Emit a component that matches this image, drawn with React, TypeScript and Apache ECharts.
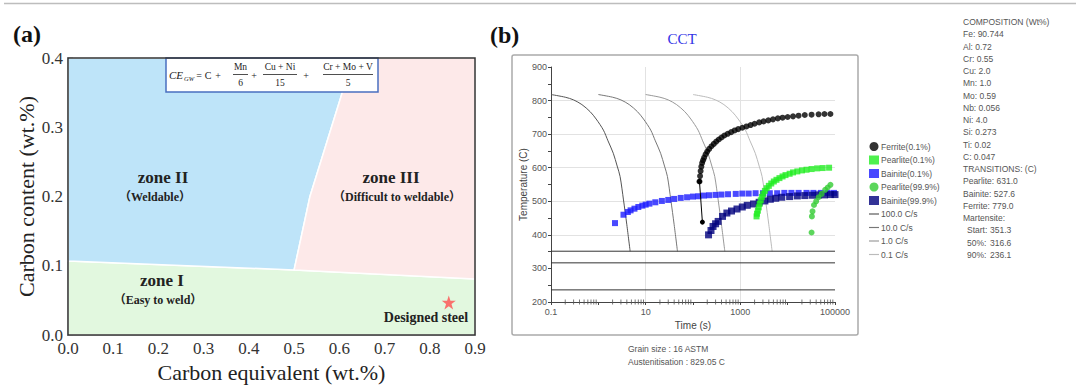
import React, { useEffect, useRef } from 'react';
import * as echarts from 'echarts';

// ---------- Panel (a) data ----------
const zoneI = [[0, 0], [0.9, 0], [0.9, 0.081], [0.5, 0.094], [0, 0.107]];
const zoneII = [[0, 0.107], [0.5, 0.094], [0.535, 0.2], [0.606, 0.349], [0.625, 0.4], [0, 0.4]];
const zoneIII = [[0.5, 0.094], [0.9, 0.081], [0.9, 0.4], [0.625, 0.4], [0.606, 0.349], [0.535, 0.2]];
const designedSteel = [[0.842, 0.047]];

// ---------- Panel (b) data (time s, temperature C) ----------
const cool100 = [[0.1, 818], [0.2, 810], [0.3, 802], [0.45, 788], [0.67, 767], [0.9, 745], [1.28, 712], [1.6, 680], [2.07, 643], [2.5, 605], [2.88, 574], [3.4, 504], [4.0, 430], [4.7, 351]];
const cool10 = [[1, 818], [2, 810], [3, 802], [4.5, 788], [6.7, 767], [9, 745], [12.8, 712], [16, 680], [20.7, 643], [25, 605], [28.8, 574], [34, 504], [40, 430], [47, 351]];
const cool1 = [[10, 818], [20, 810], [30, 802], [45, 788], [67, 767], [90, 745], [128, 712], [160, 680], [207, 643], [250, 605], [288, 574], [340, 504], [400, 430], [470, 351]];
const cool01 = [[100, 818], [200, 810], [300, 802], [450, 788], [670, 767], [900, 745], [1280, 712], [1600, 680], [2070, 643], [2500, 605], [2880, 574], [3400, 504], [4000, 430], [4700, 351]];

const ferriteStart = [[158, 438], [137, 559]];
const ferrite = [[137, 559], [141, 575], [145, 590], [150, 603], [156, 614], [163, 622], [172, 630], [185, 640], [200, 648], [220, 656], [245, 664], [275, 671], [310, 678], [350, 684], [400, 690], [460, 696], [540, 701], [640, 706], [760, 711], [900, 715], [1100, 719], [1350, 723], [1650, 727], [2000, 731], [2500, 735], [3100, 738], [3900, 741], [4900, 744], [6200, 747], [7800, 749], [10000, 751], [13000, 753], [17000, 755], [23000, 757], [32000, 758], [45000, 759], [60000, 760], [80000, 760]];
const pearlite01 = [[2200, 455], [2250, 463], [2350, 472], [2450, 482], [2550, 492], [2700, 503], [2850, 513], [3050, 522], [3300, 531], [3600, 539], [4000, 546], [4500, 553], [5100, 559], [5800, 564], [6700, 569], [7800, 574], [9000, 578], [11000, 582], [13000, 586], [16000, 589], [20000, 592], [25000, 594], [32000, 596], [42000, 598], [55000, 599], [75000, 600]];
const bainite01 = [[2.25, 435], [3.4, 460], [4.2, 468], [4.8, 473], [5.8, 478], [7, 483], [8.5, 487], [10, 490], [12, 493], [16, 497], [22, 501], [30, 504], [40, 507], [55, 510], [75, 512], [100, 514], [130, 515], [170, 517], [220, 518], [300, 519], [400, 520], [550, 521], [800, 522], [1100, 523], [1500, 523], [2100, 524], [3000, 524], [4200, 524], [6000, 524], [8500, 525], [12000, 525], [17000, 525], [25000, 525], [35000, 525], [50000, 525], [70000, 525], [95000, 525]];
const pearlite999 = [[32000, 407], [32500, 455], [33500, 470], [36000, 489], [40000, 500], [45000, 512], [52000, 522], [62000, 534], [70000, 541], [80000, 549]];
const bainite999 = [[213, 400], [240, 413], [265, 425], [300, 433], [340, 440], [420, 455], [520, 465], [650, 471], [850, 477], [1100, 483], [1400, 488], [1900, 492], [2500, 497], [3300, 501], [4300, 506], [5600, 509], [7500, 512], [11000, 514], [16000, 516], [23000, 517], [33000, 518], [45000, 519], [60000, 519], [80000, 520], [100000, 520]];

const martensiteTemps = [351.3, 316.6, 236.1];
const martensiteLabels = ['Start:', '50%:', '90%:'];
const timeRange = [0.1, 100000];
const timeLabels = ['0.1', '10', '1000', '100000'];
const decadeStarts = [0.1, 1, 10, 100, 1000, 10000];
const minorMultipliers = [2, 3, 4, 5, 6, 7, 8, 9];

const compositionLines = ['COMPOSITION (Wt%)', 'Fe: 90.744', 'Al: 0.72', 'Cr: 0.55', 'Cu: 2.0', 'Mn: 1.0', 'Mo: 0.59', 'Nb: 0.056', 'Ni: 4.0', 'Si: 0.273', 'Ti: 0.02', 'C: 0.047', 'TRANSITIONS: (C)', 'Pearlite: 631.0', 'Bainite: 527.6', 'Ferrite: 779.0', 'Martensite:'];

const legendNames = ['Ferrite(0.1%)', 'Pearlite(0.1%)', 'Bainite(0.1%)', 'Pearlite(99.9%)', 'Bainite(99.9%)', '100.0 C/s', '10.0 C/s', '1.0 C/s', '0.1 C/s'];
const coolColors = ['#555555', '#777777', '#999999', '#bbbbbb'];

const SERIF = '"Liberation Serif", "Times New Roman", serif';
const SANS = '"Liberation Sans", Arial, sans-serif';
const STAR = 'path://M50,0 L61.8,35.1 L98.9,35.1 L68.9,56.8 L80.3,91.9 L50,70.2 L19.7,91.9 L31.1,56.8 L1.1,35.1 L38.2,35.1 Z';
const LINE_ICON = 'path://M0,0 L12,0 L12,1.4 L0,1.4 Z';

function txt(text: string, x: number, y: number, o: any = {}) {
  return {
    type: 'text', x, y, z: o.z ?? 50,
    style: {
      text, fontFamily: o.family ?? SERIF, fontSize: o.size ?? 12, fontWeight: o.weight ?? 'normal',
      fontStyle: o.style ?? 'normal', fill: o.fill ?? '#222', align: o.align ?? 'left', verticalAlign: o.va ?? 'middle',
    },
  };
}

function zoneSeries(points: number[][], color: string) {
  return {
    type: 'custom', xAxisIndex: 0, yAxisIndex: 0, silent: true, z: 1, data: [0],
    renderItem: (_p: any, api: any) => ({
      type: 'polygon',
      shape: { points: points.map((p) => api.coord(p)) },
      style: { fill: color, stroke: '#ffffff', lineWidth: 1.5 },
    }),
  };
}

export default function App() {
  const ref = useRef<HTMLDivElement>(null);
  useEffect(() => {
    document.body.style.margin = '0';
    const chart = echarts.init(ref.current!, undefined, { renderer: 'svg' });

    const minorTicks: number[][] = [];
    decadeStarts.forEach((d) => minorMultipliers.forEach((m) => minorTicks.push([d * m, 200])));

    const formula: any[] = [
      { type: 'rect', z: 40, shape: { x: 166, y: 58, width: 212, height: 34 }, style: { fill: '#ffffff', stroke: '#4a6fc0', lineWidth: 1.5 } },
      txt('CE', 169, 75, { size: 11, style: 'italic' }),
      txt('GW', 184, 78, { size: 6.5, style: 'italic' }),
      txt('=', 199, 75, { size: 10, align: 'center' }),
      txt('C', 208, 75, { size: 10, align: 'center' }),
      txt('+', 218, 75, { size: 10, align: 'center' }),
      txt('Mn', 240.5, 67, { size: 9.5, align: 'center' }),
      txt('6', 240.5, 83, { size: 9.5, align: 'center' }),
      txt('+', 254, 75, { size: 10, align: 'center' }),
      txt('Cu + Ni', 280, 67, { size: 9.5, align: 'center' }),
      txt('15', 280, 83, { size: 9.5, align: 'center' }),
      txt('+', 306, 75, { size: 10, align: 'center' }),
      txt('Cr + Mo + V', 348, 67, { size: 9.5, align: 'center' }),
      txt('5', 348, 83, { size: 9.5, align: 'center' }),
      { type: 'line', z: 50, shape: { x1: 233, y1: 74.5, x2: 248, y2: 74.5 }, style: { stroke: '#222', lineWidth: 0.8 } },
      { type: 'line', z: 50, shape: { x1: 263, y1: 74.5, x2: 297, y2: 74.5 }, style: { stroke: '#222', lineWidth: 0.8 } },
      { type: 'line', z: 50, shape: { x1: 323, y1: 74.5, x2: 373, y2: 74.5 }, style: { stroke: '#222', lineWidth: 0.8 } },
    ];

    const composition: any[] = compositionLines.map((t, i) => txt(t, 963, 22 + i * 12.25, { family: SANS, size: 8.5, fill: '#555' }));
    martensiteLabels.forEach((l, i) => {
      const y = 22 + (compositionLines.length + i) * 12.25;
      composition.push(txt(l, 967, y, { family: SANS, size: 8.5, fill: '#555' }));
      composition.push(txt(martensiteTemps[i].toFixed(1), 990, y, { family: SANS, size: 8.5, fill: '#555' }));
    });

    const coolSeries = [cool100, cool10, cool1, cool01].map((d, i) => ({
      name: legendNames[5 + i], type: 'line', xAxisIndex: 1, yAxisIndex: 1, data: d, symbol: 'none', smooth: 0.3,
      lineStyle: { color: coolColors[i], width: 1 }, itemStyle: { color: coolColors[i] }, z: 3,
    }));

    const martSeries = martensiteTemps.map((t) => ({
      type: 'line', xAxisIndex: 1, yAxisIndex: 1, data: [[timeRange[0], t], [timeRange[1], t]], symbol: 'none', silent: true,
      lineStyle: { color: '#333', width: 1 }, z: 3,
    }));

    const legendData = legendNames.map((n, i) => (i >= 5 ? { name: n, icon: LINE_ICON } : { name: n }));

    const option: any = {
      animation: false,
      backgroundColor: '#ffffff',
      grid: [
        { left: 68, top: 58, width: 407, height: 277 },
        { left: 551, top: 67, width: 284, height: 235 },
      ],
      xAxis: [
        {
          gridIndex: 0, type: 'value', min: 0, max: 0.9, interval: 0.1,
          axisLine: { lineStyle: { color: '#333', width: 1.5 } },
          axisTick: { inside: true, length: 5, lineStyle: { color: '#333', width: 1.5 } },
          minorTick: { show: true, splitNumber: 2, length: 3, lineStyle: { color: '#333', width: 1.5 } },
          splitLine: { show: false },
          axisLabel: { fontFamily: SERIF, fontSize: 17, color: '#333', margin: 5, formatter: (v: number) => v.toFixed(1) },
          name: 'Carbon equivalent (wt.%)', nameLocation: 'middle', nameGap: 23,
          nameTextStyle: { fontFamily: SERIF, fontSize: 22, color: '#222' },
        },
        {
          gridIndex: 1, type: 'log', logBase: 10, min: timeRange[0], max: timeRange[1], splitNumber: 6,
          axisLine: { lineStyle: { color: '#444', width: 1 } },
          axisTick: { length: 3, lineStyle: { color: '#444' } },
          splitLine: { show: true, lineStyle: { color: ['transparent', 'transparent', '#e2e2e2', 'transparent', '#e2e2e2', 'transparent', 'transparent'], width: 1 } },
          axisLabel: {
            fontFamily: SANS, fontSize: 9, color: '#555', margin: 5,
            formatter: (v: number) => { const s = String(+Number(v).toPrecision(6)); return timeLabels.includes(s) ? s : ''; },
          },
          name: 'Time (s)', nameLocation: 'middle', nameGap: 16,
          nameTextStyle: { fontFamily: SANS, fontSize: 10, color: '#444' },
        },
      ],
      yAxis: [
        {
          gridIndex: 0, type: 'value', min: 0, max: 0.4, interval: 0.1,
          axisLine: { show: true, lineStyle: { color: '#333', width: 1.5 } },
          axisTick: { show: true, inside: true, length: 5, lineStyle: { color: '#333', width: 1.5 } },
          minorTick: { show: true, splitNumber: 2, length: 3, lineStyle: { color: '#333', width: 1.5 } },
          splitLine: { show: false },
          axisLabel: { fontFamily: SERIF, fontSize: 17, color: '#333', margin: 5, formatter: (v: number) => v.toFixed(1) },
          name: 'Carbon content (wt.%)', nameLocation: 'middle', nameGap: 28,
          nameTextStyle: { fontFamily: SERIF, fontSize: 22, color: '#222' },
        },
        {
          gridIndex: 1, type: 'value', min: 200, max: 900, interval: 100,
          axisLine: { show: true, lineStyle: { color: '#444', width: 1 } },
          axisTick: { show: true, length: 3, lineStyle: { color: '#444' } },
          minorTick: { show: true, splitNumber: 2, length: 3, lineStyle: { color: '#444' } },
          splitLine: { show: true, lineStyle: { color: ['transparent', 'transparent', '#e2e2e2', '#e2e2e2', '#e2e2e2', '#e2e2e2', '#e2e2e2', 'transparent'], width: 1 } },
          axisLabel: { fontFamily: SANS, fontSize: 9, color: '#555', margin: 4 },
          name: 'Temperature (C)', nameLocation: 'middle', nameGap: 22,
          nameTextStyle: { fontFamily: SANS, fontSize: 10, color: '#444' },
        },
      ],
      legend: {
        orient: 'vertical', left: 864, top: 137, itemWidth: 10, itemHeight: 9, itemGap: 4.5,
        selectedMode: false, data: legendData,
        textStyle: { fontFamily: SANS, fontSize: 8.5, color: '#555', padding: [0, 0, 0, -3] },
      },
      series: [
        zoneSeries(zoneI, '#e2f8df'),
        zoneSeries(zoneII, '#bee4f9'),
        zoneSeries(zoneIII, '#fde9e9'),
        {
          type: 'scatter', xAxisIndex: 0, yAxisIndex: 0, data: designedSteel, symbol: STAR, symbolSize: 14,
          itemStyle: { color: '#ff4f4f' }, z: 5, silent: true,
        },
        ...coolSeries,
        ...martSeries,
        {
          type: 'scatter', xAxisIndex: 1, yAxisIndex: 1, data: minorTicks, symbol: 'rect', symbolSize: [1, 5],
          itemStyle: { color: '#555' }, silent: true, clip: false, z: 4,
        },
        {
          type: 'line', xAxisIndex: 1, yAxisIndex: 1, data: ferriteStart, symbol: 'circle', symbolSize: 5,
          lineStyle: { color: '#000', width: 1 }, itemStyle: { color: '#000' }, z: 9,
        },
        {
          name: 'Bainite(0.1%)', type: 'scatter', xAxisIndex: 1, yAxisIndex: 1, data: bainite01, symbol: 'rect', symbolSize: 6,
          itemStyle: { color: '#1b1bff' }, z: 5,
        },
        {
          name: 'Bainite(99.9%)', type: 'scatter', xAxisIndex: 1, yAxisIndex: 1, data: bainite999, symbol: 'rect', symbolSize: 7,
          itemStyle: { color: '#00007d' }, z: 6,
        },
        {
          name: 'Pearlite(0.1%)', type: 'scatter', xAxisIndex: 1, yAxisIndex: 1, data: pearlite01, symbol: 'rect', symbolSize: 6,
          itemStyle: { color: '#22ee22' }, z: 7,
        },
        {
          name: 'Pearlite(99.9%)', type: 'scatter', xAxisIndex: 1, yAxisIndex: 1, data: pearlite999, symbol: 'circle', symbolSize: 6,
          itemStyle: { color: '#33cc33' }, z: 7,
        },
        {
          name: 'Ferrite(0.1%)', type: 'scatter', xAxisIndex: 1, yAxisIndex: 1, data: ferrite, symbol: 'circle', symbolSize: 6,
          itemStyle: { color: '#000000' }, z: 8,
        },
      ],
      graphic: [
        { type: 'line', shape: { x1: 4, y1: 3.5, x2: 1076, y2: 3.5 }, style: { stroke: '#bdbdbd', lineWidth: 1.5 } },
        txt('(a)', 13, 34, { size: 24, weight: 'bold', fill: '#111' }),
        txt('(b)', 490, 35, { size: 24, weight: 'bold', fill: '#111' }),
        { type: 'rect', z: 100, shape: { x: 68, y: 58, width: 407, height: 277 }, style: { fill: 'none', stroke: '#333', lineWidth: 1.5 } },
        ...formula,
        txt('zone II', 163, 177, { size: 17, weight: 'bold', align: 'center' }),
        txt('（Weldable）', 155, 197, { size: 12, weight: 'bold', align: 'center', family: SERIF + ', "Noto Sans CJK SC"' }),
        txt('zone III', 391, 177, { size: 17, weight: 'bold', align: 'center' }),
        txt('（Difficult to weldable）', 397, 197, { size: 12, weight: 'bold', align: 'center', family: SERIF + ', "Noto Sans CJK SC"' }),
        txt('zone I', 162, 280, { size: 17, weight: 'bold', align: 'center' }),
        txt('（Easy to weld）', 158, 300, { size: 12, weight: 'bold', align: 'center', family: SERIF + ', "Noto Sans CJK SC"' }),
        txt('Designed steel', 426, 317, { size: 14, weight: 'bold', align: 'center' }),
        { type: 'rect', z: 0, shape: { x: 512, y: 55, width: 346, height: 280, r: 2 }, style: { fill: 'none', stroke: '#aaaaaa', lineWidth: 1.5 } },
        txt('CCT', 682, 39, { size: 15, fill: '#3434e6', align: 'center' }),
        ...composition,
        txt('Grain size : 16 ASTM', 628, 349, { family: SANS, size: 8.5, fill: '#555' }),
        txt('Austenitisation : 829.05 C', 628, 362, { family: SANS, size: 8.5, fill: '#555' }),
      ],
    };
    chart.setOption(option);
    return () => chart.dispose();
  }, []);
  return <div ref={ref} style={{ width: 1080, height: 390 }} />;
}
